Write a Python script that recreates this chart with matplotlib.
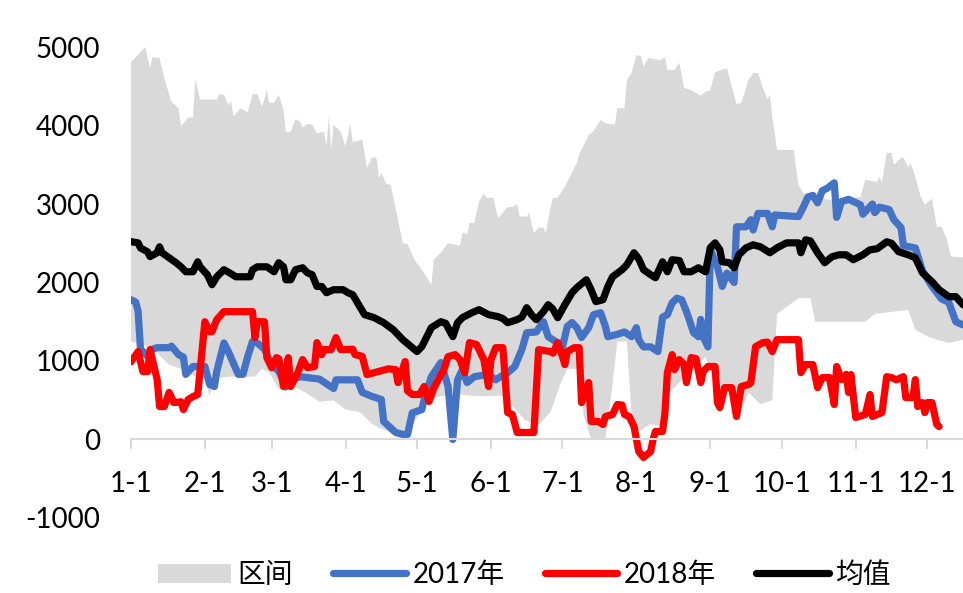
import numpy as np
import matplotlib
matplotlib.use("Agg")
import matplotlib.pyplot as plt

plt.rcParams['font.family'] = ['Lato', 'Noto Sans CJK SC', 'DejaVu Sans']
plt.rcParams['axes.unicode_minus'] = False

# day of year (0 = 1-1) and values
band_hi_days = [0, 3, 6, 8, 9, 12, 14, 17, 20, 21, 24, 26, 27, 29, 36, 37, 39, 41, 42, 43, 46, 49, 51, 53, 55,
                57, 58, 60, 62, 64, 65, 67, 69, 71, 72, 74, 76, 78, 81, 82, 83, 84, 85, 88, 90, 92, 93, 97, 99,
                101, 103, 104, 105, 107, 109, 112, 114, 116, 119, 123, 126, 127, 130, 133, 138, 139, 140, 141,
                142, 144, 146, 148, 149, 152, 154, 158, 160, 162, 163, 166, 167, 169, 171, 173, 174, 176, 177,
                179, 182, 185, 187, 188, 192, 194, 197, 199, 203, 204, 207, 208, 210, 212, 214, 215, 217, 222,
                224, 225, 228, 230, 232, 235, 239, 241, 243, 245, 248, 250, 254, 256, 259, 261, 263, 265, 267,
                268, 269, 271, 278, 280, 282, 293, 306, 308, 313, 314, 315, 317, 319, 320, 323, 324, 326, 327,
                329, 331, 333, 336, 338, 340, 342, 344, 349]
band_hi = [4810, 4900, 5000, 4730, 4870, 4860, 4600, 4300, 4220, 3990, 4100, 4100, 4590, 4330, 4330, 4400, 4390,
           4260, 4310, 4120, 4220, 4170, 4400, 4400, 4240, 4450, 4290, 4290, 4390, 4200, 3920, 3920, 4080, 4050,
           3970, 4020, 4010, 3900, 3920, 3730, 4130, 3690, 4010, 3920, 3730, 4030, 3790, 3820, 3460, 3590, 3590,
           3330, 3400, 3260, 3240, 2800, 2500, 2490, 2290, 2120, 1970, 2290, 2380, 2500, 2470, 2630, 2630, 2610,
           2760, 2760, 3030, 3130, 3080, 3080, 2820, 2960, 2960, 3000, 2840, 2840, 2890, 2630, 2700, 2700, 2630,
           2950, 3080, 3080, 3220, 3400, 3520, 3630, 3880, 3930, 4070, 4030, 4010, 4220, 4220, 4580, 4670, 4900,
           4880, 4750, 4860, 4830, 4870, 4710, 4710, 4800, 4480, 4450, 4380, 4430, 4450, 4680, 4710, 4730, 4270,
           4290, 4580, 4670, 4670, 4490, 4330, 4390, 4110, 3690, 3690, 3240, 3140, 3050, 3090, 3310, 3280, 3350,
           3270, 3650, 3650, 3500, 3590, 3590, 3470, 3520, 3350, 3120, 2990, 3070, 2710, 2710, 2570, 2330, 2320]

band_lo_days = [0, 6, 11, 16, 21, 27, 31, 33, 35, 41, 52, 55, 58, 62, 67, 73, 79, 85, 90, 96, 101, 104, 111, 115,
                121, 125, 130, 136, 142, 150, 155, 161, 165, 171, 176, 180, 183, 187, 190, 193, 199, 202, 204,
                208, 210, 213, 218, 222, 226, 234, 241, 245, 251, 255, 259, 264, 269, 271, 280, 285, 287, 308,
                312, 326, 329, 335, 343, 349]
band_lo = [1250, 1200, 1100, 950, 900, 800, 780, 550, 780, 800, 800, 900, 850, 640, 700, 600, 480, 500, 380, 350,
           200, 150, 60, 60, 320, 500, 550, 580, 560, 550, 560, 400, 250, 180, 350, 700, 900, 900, 300, 0, 0, 700,
           1250, 1250, 300, 100, 200, 170, 600, 850, 1050, 700, 600, 300, 600, 450, 500, 1600, 1800, 1800, 1500,
           1500, 1600, 1650, 1400, 1300, 1230, 1270]

y2017_days = [0, 2, 3, 4, 7, 9, 11, 16, 17, 20, 22, 23, 26, 31, 33, 35, 36, 39, 41, 45, 47, 49, 51, 53, 56, 59,
              62, 65, 67, 71, 79, 85, 86, 95, 97, 101, 105, 106, 111, 114, 116, 118, 122, 123, 126, 130, 133,
              135, 137, 139, 141, 144, 150, 153, 155, 158, 161, 164, 166, 170, 173, 175, 179, 181, 183, 185, 187,
              189, 192, 194, 197, 199, 200, 204, 207, 210, 212, 213, 215, 218, 221, 223, 225, 227, 229, 231, 233,
              236, 238, 239, 240, 242, 243, 246, 248, 250, 253, 254, 258, 260, 261, 263, 267, 269, 270, 280, 282,
              284, 286, 288, 290, 292, 295, 296, 298, 301, 306, 307, 311, 312, 314, 318, 320, 323, 324, 329, 332,
              336, 340, 343, 346, 349]
y2017 = [1780, 1750, 1630, 1150, 1060, 1150, 1170, 1170, 1190, 1080, 1050, 830, 930, 930, 700, 675, 870, 1230,
         1110, 830, 830, 1060, 1250, 1230, 1150, 950, 870, 670, 760, 800, 770, 650, 760, 760, 600, 550, 510, 230,
         90, 64, 64, 340, 380, 510, 800, 980, 675, 0, 760, 890, 725, 800, 830, 760, 800, 850, 930, 1150, 1360,
         1370, 1500, 1310, 1230, 1180, 1440, 1490, 1425, 1300, 1425, 1590, 1615, 1440, 1310, 1340, 1370, 1310,
         1425, 1270, 1180, 1180, 1120, 1560, 1590, 1740, 1800, 1780, 1630, 1360, 1310, 1530, 1310, 1180, 2420,
         2200, 1950, 2120, 2000, 2710, 2710, 2800, 2670, 2880, 2880, 2710, 2860, 2840, 2960, 3090, 3110, 3015,
         3170, 3200, 3270, 2830, 3030, 3060, 2990, 2870, 3000, 2890, 2960, 2930, 2800, 2700, 2470, 2440, 2150,
         1950, 1790, 1750, 1500, 1460]

y2018_days = [0, 3, 5, 7, 8, 9, 11, 12, 14, 16, 18, 21, 22, 24, 26, 28, 30, 31, 33, 34, 36, 39, 51, 52, 53, 56,
              57, 59, 61, 62, 64, 66, 67, 70, 72, 74, 77, 78, 80, 81, 84, 86, 88, 93, 94, 97, 99, 108, 111, 112,
              115, 116, 118, 121, 123, 125, 127, 130, 131, 133, 136, 138, 140, 142, 145, 148, 150, 151, 153, 156,
              158, 160, 162, 169, 171, 176, 177, 179, 181, 182, 183, 186, 188, 189, 192, 193, 196, 198, 199, 202,
              204, 206, 207, 209, 211, 213, 215, 218, 219, 220, 223, 224, 225, 227, 228, 230, 232, 233, 235, 237,
              239, 240, 242, 245, 246, 247, 249, 252, 254, 256, 259, 260, 262, 265, 267, 269, 271, 280, 281, 283,
              286, 288, 290, 293, 295, 296, 298, 300, 301, 302, 304, 308, 310, 311, 315, 317, 319, 321, 324, 325,
              328, 329, 330, 332, 333, 334, 336, 338, 339]
y2018 = [990, 1120, 865, 865, 1145, 1018, 763, 420, 420, 600, 470, 480, 382, 509, 547, 573, 1183, 1500, 1374,
         1374, 1527, 1629, 1629, 1298, 1501, 1501, 1043, 916, 1043, 1030, 675, 1043, 675, 852, 1018, 916, 929,
         1234, 1081, 1145, 1145, 1298, 1145, 1150, 1081, 1060, 827, 900, 890, 725, 993, 620, 573, 573, 675, 484,
         650, 827, 865, 1056, 1081, 1018, 852, 1234, 1209, 1018, 675, 1018, 1170, 1170, 343, 318, 89, 89, 1145,
         1120, 1100, 1234, 1056, 955, 1120, 1170, 1170, 470, 725, 230, 230, 191, 293, 318, 445, 440, 318, 293,
         165, -153, -229, -153, 0, 102, 102, 343, 852, 1081, 890, 1018, 960, 725, 1043, 1030, 725, 865, 930, 930,
         470, 407, 661, 661, 293, 675, 700, 720, 1183, 1234, 1240, 1120, 1272, 1272, 852, 955, 955, 661, 789,
         789, 445, 930, 763, 830, 600, 827, 280, 318, 573, 293, 343, 800, 789, 760, 800, 534, 534, 763, 420,
         470, 343, 470, 470, 191, 165]

mean_days = [0, 3, 4, 7, 8, 11, 12, 13, 16, 19, 21, 23, 26, 28, 29, 32, 34, 36, 39, 41, 44, 50, 51, 53, 57, 60,
             62, 64, 65, 67, 69, 72, 74, 76, 78, 80, 82, 85, 89, 91, 93, 95, 98, 102, 106, 110, 114, 118, 120,
             122, 126, 130, 132, 135, 137, 139, 143, 146, 150, 154, 156, 158, 162, 164, 166, 168, 170, 173, 175,
             177, 179, 182, 185, 187, 191, 193, 195, 198, 200, 202, 206, 208, 211, 213, 215, 218, 220, 223, 225,
             227, 230, 232, 235, 238, 241, 243, 245, 247, 248, 251, 253, 255, 258, 261, 264, 268, 271, 275, 280,
             281, 283, 285, 288, 291, 294, 297, 300, 303, 307, 310, 313, 317, 319, 322, 326, 329, 332, 336, 339,
             343, 346, 349]
mean = [2520, 2505, 2440, 2390, 2330, 2380, 2455, 2380, 2315, 2250, 2200, 2137, 2137, 2264, 2200, 2100, 1972,
        2073, 2163, 2130, 2073, 2073, 2163, 2200, 2200, 2137, 2252, 2200, 2035, 2035, 2163, 2188, 2124, 2099, 1950,
        1950, 1870, 1908, 1908, 1870, 1845, 1743, 1590, 1552, 1488, 1399, 1272, 1170, 1120, 1183, 1425, 1501,
        1480, 1310, 1488, 1552, 1615, 1654, 1590, 1565, 1540, 1488, 1527, 1560, 1679, 1590, 1527, 1629, 1717,
        1660, 1552, 1717, 1870, 1934, 2035, 1908, 1756, 1781, 1947, 2073, 2163, 2226, 2379, 2300, 2163, 2099,
        2061, 2264, 2137, 2290, 2280, 2137, 2137, 2188, 2137, 2442, 2505, 2417, 2264, 2252, 2188, 2353, 2442,
        2480, 2455, 2379, 2442, 2505, 2505, 2379, 2544, 2530, 2379, 2252, 2328, 2353, 2353, 2290, 2353, 2417,
        2430, 2519, 2500, 2392, 2353, 2315, 2124, 2010, 1908, 1820, 1820, 1717]

month_days = [0, 31, 59, 90, 120, 151, 181, 212, 243, 273, 304, 334]
month_labels = ['1-1', '2-1', '3-1', '4-1', '5-1', '6-1', '7-1', '8-1', '9-1', '10-1', '11-1', '12-1']

fig = plt.figure(figsize=(9.63, 5.93), dpi=100)
ax = fig.add_axes([0.136, 0.1265, 0.864, 0.7942])

ax.fill(np.concatenate([band_hi_days, band_lo_days[::-1]]),
        np.concatenate([band_hi, band_lo[::-1]]),
        color='#D9D9D9', lw=0, label='区间')
lw = 5.2
ax.plot(y2017_days, y2017, color='#4472C4', lw=lw, solid_joinstyle='round', solid_capstyle='round', label='2017年')
ax.plot(y2018_days, y2018, color='#FF0000', lw=lw, solid_joinstyle='round', solid_capstyle='round', label='2018年')
ax.plot(mean_days, mean, color='#000000', lw=lw, solid_joinstyle='round', solid_capstyle='round', label='均值')

ax.set_xlim(0, 349)
ax.set_ylim(-1000, 5000)
ax.set_yticks(range(-1000, 5001, 1000))
ax.set_xticks(month_days)
ax.set_xticklabels(month_labels)

for s in ['top', 'right', 'left']:
    ax.spines[s].set_visible(False)
ax.spines['bottom'].set_position(('data', 0))
ax.spines['bottom'].set_color('#D9D9D9')
ax.spines['bottom'].set_linewidth(1.5)
ax.tick_params(axis='x', direction='out', length=7, width=1.5, color='#D9D9D9', pad=16, labelsize=20)
ax.tick_params(axis='y', length=0, pad=22, labelsize=20)

fig.legend(loc='center left', bbox_to_anchor=(0.150, 0.030), ncol=4, frameon=False, fontsize=20,
           handlelength=2.6, handletextpad=0.25, columnspacing=1.45, borderpad=0)

fig.savefig('out.png', dpi=100)
